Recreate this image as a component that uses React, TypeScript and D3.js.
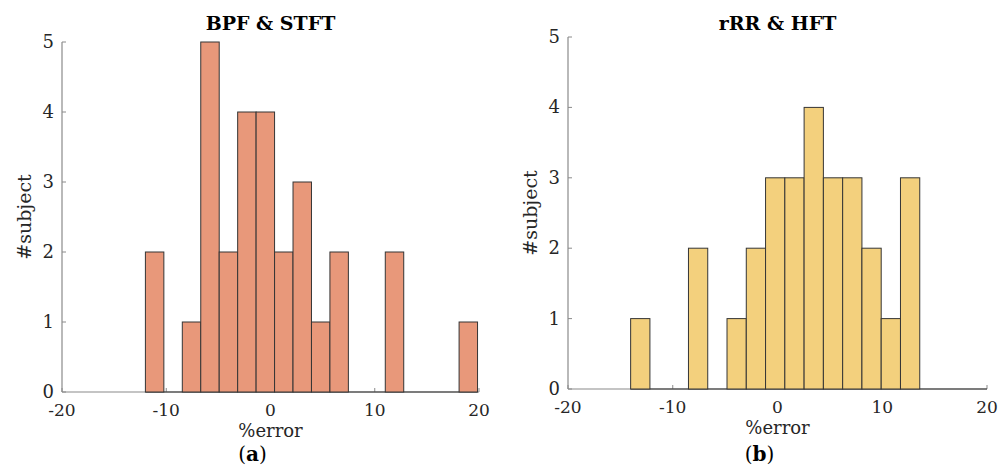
import React from "react";
import * as d3 from "d3";

// Panel (a): BPF & STFT
const titleA = "BPF & STFT";
const binStartA = -12.0;
const binWidthA = 1.77;
const countsA = [2, 0, 1, 5, 2, 4, 4, 2, 3, 1, 2, 0, 0, 2, 0, 0, 0, 1];

// Panel (b): rRR & HFT
const titleB = "rRR & HFT";
const binStartB = -14.02;
const binWidthB = 1.84;
const countsB = [1, 0, 0, 2, 0, 1, 2, 3, 3, 4, 3, 3, 2, 1, 3];

const xTicks = [-20, -10, 0, 10, 20];
const yTicks = [0, 1, 2, 3, 4, 5];
const xDomain: [number, number] = [-20, 20];
const yDomain: [number, number] = [0, 5];

const FONT = "'DejaVu Serif', 'Liberation Serif', serif";

type PanelProps = {
  title: string;
  label: string;
  binStart: number;
  binWidth: number;
  counts: number[];
  fill: string;
  left: number;
  right: number;
  top: number;
  bottom: number;
  darkToEnd: boolean;
};

function Panel(p: PanelProps) {
  const x = d3.scaleLinear().domain(xDomain).range([p.left, p.right]);
  const y = d3.scaleLinear().domain(yDomain).range([p.bottom, p.top]);
  const bins = p.counts.map((c, i) => ({
    x0: p.binStart + i * p.binWidth,
    x1: p.binStart + (i + 1) * p.binWidth,
    c,
  }));
  const binEnd = p.binStart + p.counts.length * p.binWidth;
  const cx = (p.left + p.right) / 2;
  const axisColor = "#8a8a8a";
  const barStroke = "#353535";
  const textColor = "#262626";
  return (
    <g>
      {/* axes */}
      <line x1={p.left} x2={p.right} y1={p.bottom} y2={p.bottom} stroke={axisColor} strokeWidth={1.2} />
      <line x1={p.left} x2={p.left} y1={p.top} y2={p.bottom} stroke={axisColor} strokeWidth={1.2} />
      {xTicks.map((t) => (
        <g key={"xt" + t}>
          <line x1={x(t)} x2={x(t)} y1={p.bottom} y2={p.bottom - 4} stroke={axisColor} strokeWidth={1} />
          <text x={x(t)} y={p.bottom + 24} textAnchor="middle" fontFamily={FONT} fontSize={17} fill={textColor}>
            {t}
          </text>
        </g>
      ))}
      {yTicks.map((t) => (
        <g key={"yt" + t}>
          <line x1={p.left} x2={p.left + 4} y1={y(t)} y2={y(t)} stroke={axisColor} strokeWidth={1} />
          <text x={p.left - 8} y={y(t) + 6} textAnchor="end" fontFamily={FONT} fontSize={18} fill={textColor}>
            {t}
          </text>
        </g>
      ))}
      {/* dark baseline under zero-count bins */}
      <line
        x1={x(p.binStart)}
        x2={p.darkToEnd ? x(xDomain[1]) : x(binEnd)}
        y1={p.bottom}
        y2={p.bottom}
        stroke={barStroke}
        strokeWidth={1.2}
      />
      {/* bars */}
      {bins
        .filter((b) => b.c > 0)
        .map((b, i) => (
          <rect
            key={"b" + i}
            x={x(b.x0)}
            y={y(b.c)}
            width={x(b.x1) - x(b.x0)}
            height={y(0) - y(b.c)}
            fill={p.fill}
            stroke={barStroke}
            strokeWidth={1}
          />
        ))}
      {/* titles & labels */}
      <text x={cx} y={30} textAnchor="middle" fontFamily={FONT} fontWeight="bold" fontSize={19} fill="#000">
        {p.title}
      </text>
      <text x={x(0)} y={p.bottom + 45} textAnchor="middle" fontFamily={FONT} fontSize={18} fill={textColor}>
        %error
      </text>
      <text
        transform={`translate(${p.left - 31},${(p.top + p.bottom) / 2}) rotate(-90)`}
        textAnchor="middle"
        fontFamily={FONT}
        fontSize={19}
        fill={textColor}
      >
        #subject
      </text>
      <text x={x(0) - 18} y={461} textAnchor="middle" fontFamily={FONT} fontSize={20} fill="#000">
        (<tspan fontWeight="bold">{p.label}</tspan>)
      </text>
    </g>
  );
}

export default function App() {
  return (
    <svg
      width={1008}
      height={470}
      style={{ position: "absolute", left: 0, top: 0, background: "#fff" }}
    >
      <rect x={0} y={0} width={1008} height={470} fill="#fff" />
      <Panel
        title={titleA}
        label="a"
        binStart={binStartA}
        binWidth={binWidthA}
        counts={countsA}
        fill="#E8987A"
        left={62}
        right={479}
        top={42}
        bottom={392}
        darkToEnd={false}
      />
      <Panel
        title={titleB}
        label="b"
        binStart={binStartB}
        binWidth={binWidthB}
        counts={countsB}
        fill="#F3D07D"
        left={568}
        right={987}
        top={37}
        bottom={389}
        darkToEnd={true}
      />
    </svg>
  );
}
